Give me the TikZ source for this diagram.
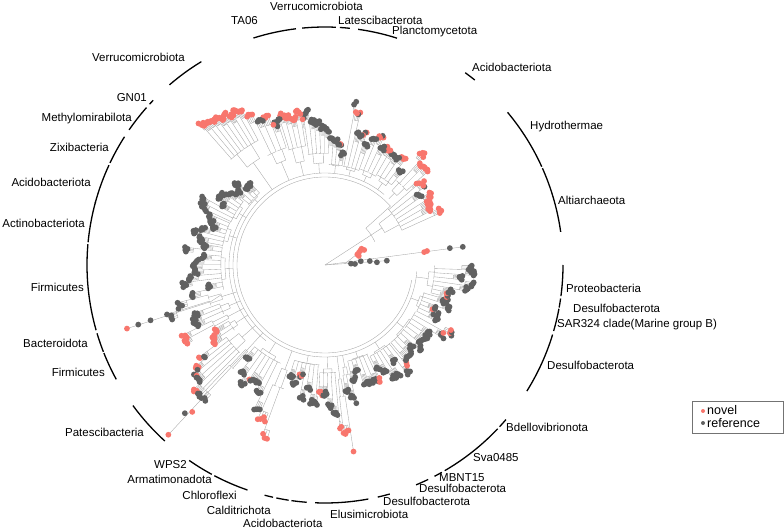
\documentclass[tikz,border=0pt]{standalone}
\usepackage{fontspec}
\setmainfont{Liberation Sans}
\usetikzlibrary{positioning}
\usetikzlibrary{calc}

\definecolor{novelc}{HTML}{F8766D}
\definecolor{refc}{HTML}{616161}
\definecolor{branchc}{HTML}{A6A6A6}

\tikzset{
  branch/.style={draw=branchc, line width=0.35pt},
  novel/.style={fill=novelc},
  ref/.style={fill=refc},
  clade/.style={draw=black, line width=1.3pt},
  lab/.style={font=\fontsize{11.5}{13}\selectfont, inner sep=0pt, text height=8.3pt, text depth=0pt},
  leg/.style={font=\fontsize{12.5}{14}\selectfont, inner sep=0pt, text height=8.5pt, text depth=0pt, anchor=west},
}

% a1, a2, stem start, base radius, first tip r, last tip r, spread, tips, red share
\newcommand{\tipclade}[9]{%
  \pgfmathsetmacro{\cm}{(#1+#2)/2}%
  \pgfmathsetmacro{\cd}{(#2-#1)/#8}%
  \pgfmathtruncatemacro{\ch}{#8/2}%
  \pgfmathsetmacro{\ca}{#1+\cd*\ch/2}%
  \pgfmathsetmacro{\cb}{#1+\cd*(\ch+#8)/2}%
  \pgfmathsetmacro{\cs}{#4+0.35*(min(#5,#6)-#4)}%
  \pgfmathsetmacro{\cfa}{#1+\cd/2}%
  \pgfmathsetmacro{\cla}{#1+\cd*(\ch-0.5)}%
  \pgfmathsetmacro{\cfb}{#1+\cd*(\ch+0.5)}%
  \pgfmathsetmacro{\clb}{#2-\cd/2}%
  \ifnum\tippass=1
    \draw[branch] (\cm:#3) -- (\cm:#4);
    \draw[branch] (\ca:#4) arc[start angle=\ca, end angle=\cb, radius=#4];
    \draw[branch] (\ca:#4) -- (\ca:\cs) (\cb:#4) -- (\cb:\cs);
    \draw[branch] (\cfa:\cs) arc[start angle=\cfa, end angle=\cla, radius=\cs];
    \draw[branch] (\cfb:\cs) arc[start angle=\cfb, end angle=\clb, radius=\cs];
  \fi
  \pgfmathtruncatemacro{\cn}{#8-1}%
  \foreach \i in {0,...,\cn}{
    \pgfmathsetmacro{\ta}{#1+(\i+0.5)*\cd}
    \pgfmathtruncatemacro{\tm}{mod(\i,4)}
    \pgfmathsetmacro{\tz}{rnd}
    \pgfmathsetmacro{\tk}{rnd}
    \ifnum\tm=0
      \xdef\ccol{\tk}
      \pgfmathsetmacro{\rl}{max(#5+(#6-#5)*\i/max(\cn,1)+#7*\tz-7,\cs+2)}
      \xdef\crl{\rl}
      \pgfmathsetmacro{\te}{#1+(min(\i+3,\cn)+0.5)*\cd}
      \ifnum\tippass=1
        \draw[branch] (\ta:\cs) -- (\ta:\crl) arc[start angle=\ta, end angle=\te, radius=\crl];
      \fi
    \fi
    \pgfmathsetmacro{\tr}{\crl+5+5*rnd}
    \pgfmathsetmacro{\tq}{rnd}
    \pgfmathtruncatemacro{\tc}{0.7*\ccol+0.3*\tq<#9}
    \ifnum\tippass=1
      \draw[branch] (\ta:\crl) -- (\ta:\tr);
    \else
      \ifnum\tc=1 \fill[novel] (\ta:\tr) circle[radius=2.9];
      \else \fill[ref] (\ta:\tr) circle[radius=2.9]; \fi
    \fi
  }
}

\newcommand{\alltips}{%
    \tipclade{24}{42}{55}{68}{115}{118}{14}{26}{0.75}
    \tipclade{42}{50}{92}{100}{130}{140}{16}{12}{0.6}
    \tipclade{50}{60}{92}{100}{112}{135}{22}{16}{0.35}
    \tipclade{60}{70}{92}{98}{110}{135}{22}{16}{0.55}
    \tipclade{70}{80}{92}{98}{105}{150}{24}{18}{0.35}
    \tipclade{80}{88}{92}{100}{102}{130}{20}{16}{0.15}
    \tipclade{88}{99}{92}{102}{130}{140}{18}{22}{0.12}
    \tipclade{99}{108}{92}{106}{148}{150}{8}{18}{0.8}
    \tipclade{108}{118}{92}{112}{145}{162}{14}{16}{0.6}
    \tipclade{118}{132}{92}{125}{172}{185}{5}{34}{1.0}
    \tipclade{132}{142}{92}{96}{100}{110}{16}{18}{0.08}
    \tipclade{142}{156}{92}{100}{110}{125}{22}{26}{0.08}
    \tipclade{156}{170}{92}{100}{112}{118}{22}{26}{0.08}
    \tipclade{170}{194}{92}{100}{112}{118}{28}{40}{0.1}
    \tipclade{194}{200}{92}{108}{145}{170}{6}{8}{0.1}
    \tipclade{200}{206}{92}{104}{128}{140}{12}{12}{0.1}
    \tipclade{206}{210}{92}{110}{156}{160}{4}{8}{1.0}
    \tipclade{210}{216}{92}{106}{122}{132}{10}{12}{0.7}
    \tipclade{216}{226}{92}{110}{145}{180}{16}{22}{0.3}
    \tipclade{226}{229}{92}{116}{180}{190}{4}{4}{0.5}
    \tipclade{229}{246}{92}{104}{115}{150}{20}{28}{0.15}
    \tipclade{246}{252}{92}{112}{165}{185}{4}{7}{0.6}
    \tipclade{252}{267}{92}{100}{100}{120}{25}{26}{0.2}
    \tipclade{267}{276}{92}{104}{115}{150}{20}{18}{0.2}
    \tipclade{276}{279}{92}{115}{165}{185}{4}{5}{1.0}
    \tipclade{279}{283}{92}{104}{126}{138}{6}{9}{0.0}
    \tipclade{283}{296}{92}{98}{100}{120}{20}{22}{0.15}
    \tipclade{296}{310}{92}{100}{105}{125}{20}{26}{0.25}
    \tipclade{310}{333}{92}{100}{105}{125}{25}{36}{0.2}
    \tipclade{333}{345}{92}{100}{108}{122}{20}{22}{0.15}
    \tipclade{345}{360}{92}{104}{120}{140}{22}{28}{0.1}
}

\begin{document}
\begin{tikzpicture}[x=1pt, y=1pt]

    \useasboundingbox (-325,-267) rectangle (459,265);

    % Backbone
    \coordinate (root) at (0,0);
    \coordinate (nA) at (33:55);
    \draw[branch] (root) -- (nA);
    \draw[branch] (25:55) arc[start angle=25, end angle=42, radius=55];
    \draw[branch] (42:55) -- (42:88);
    \draw[branch] (42:88) arc[start angle=42, end angle=350, radius=88];
    \draw[branch] (50:92) arc[start angle=50, end angle=356, radius=92];
    \draw[branch] (140:96) arc[start angle=140, end angle=232, radius=96];

    % Lone lineages
    \draw[branch] (root) -- (7.5:139);
    \draw[branch] (root) -- (4:62);
    \draw[branch] (4:20) -- (21:38);

    % Long tips
    \draw[branch] (196:108) -- (197.8:120) -- (197.8:208);
    \draw[branch] (227.5:116) -- (227.5:130) -- (227.3:231);

    % Clades: branches first, then tips
    \def\tippass{1}\pgfmathsetseed{7}\alltips
    \def\tippass{2}\pgfmathsetseed{7}\alltips

    \foreach \a/\r in {7.5/139, 7.7/126, 4/62, 3/52, 5/45, 2/30, 3/26, 6/36,
        197.6/183, 197.7/196, 226.6/204}
      \fill[ref] (\a:\r) circle[radius=2.9];
    \foreach \a/\r in {7.4/100, 7.8/103, 22/38, 20/36, 24/40, 18/34, 21/42, 15/35,
        197.8/208, 227.3/231, 227.9/198}
      \fill[novel] (\a:\r) circle[radius=2.9];

    % Clade arcs
    \foreach \a/\b in {97/107.5, 87.4/95.5, 84/86.4, 72.4/82, 51/53.9, 24.4/39.9,
        8/24, -7.5/0, -10.3/-8.1, -16.1/-10.6, -32/-17, -42.8/-40.5, -59.8/-43.5,
        -62.6/-60.6, -67.5/-64.3, -77.2/-74.2, -92.4/-79.5, -98.1/-94.4,
        -101.8/-98.8, -104.7/-102.6, -117.7/-109, -124.8/-118.4, -143.8/-132.3,
        -158.3/-151.3, -163.3/-158.6, 175/195.9, 164.6/174.5, 155.2/164.9,
        147.4/154.6, 138.6/145.4, 136.2/137.5, 121.3/130.8}
      \draw[clade] (\a:238) arc[start angle=\a, end angle=\b, radius=238];

    % Labels
    \node[lab, anchor=west] (lVerrT) at (-55,258.5) {Verrucomicrobiota};
    \node[lab, anchor=east] (lTA) at (-67,244.5) {TA06};
    \node[lab, anchor=west] (lLate) at (13,245) {Latescibacterota};
    \node[lab, anchor=west] (lPlan) at (67,234.5) {Planctomycetota};
    \node[lab, anchor=west] (lAcidR) at (147,197.5) {Acidobacteriota};
    \node[lab, anchor=west] (lHydr) at (205,140) {Hydrothermae};
    \node[lab, anchor=west] (lAlti) at (233,65) {Altiarchaeota};
    \node[lab, anchor=west] (lProt) at (241,-23) {Proteobacteria};
    \node[lab, anchor=west] (lDesA) at (248,-43) {Desulfobacterota};
    \node[lab, anchor=west] (lSAR) at (232,-58) {SAR324 clade(Marine group B)};
    \node[lab, anchor=west] (lDesB) at (222,-100.5) {Desulfobacterota};
    \node[lab, anchor=west] (lBdel) at (181,-162) {Bdellovibrionota};
    \node[lab, anchor=west] (lSva) at (148,-192.5) {Sva0485};
    \node[lab, anchor=west] (lMBN) at (114,-212.5) {MBNT15};
    \node[lab, anchor=west] (lDesC) at (94,-223.5) {Desulfobacterota};
    \node[lab, anchor=west] (lDesD) at (58,-236.5) {Desulfobacterota};
    \node[lab, anchor=west] (lElus) at (5,-249.5) {Elusimicrobiota};
    \node[lab, anchor=west] (lAcidB) at (-82,-258.5) {Acidobacteriota};
    \node[lab, anchor=east] (lCald) at (-54,-245) {Calditrichota};
    \node[lab, anchor=east] (lChlo) at (-88,-230) {Chloroflexi};
    \node[lab, anchor=east] (lArma) at (-113,-214) {Armatimonadota};
    \node[lab, anchor=east] (lWPS) at (-138,-199) {WPS2};
    \node[lab, anchor=east] (lPate) at (-181,-167) {Patescibacteria};
    \node[lab, anchor=east] (lFirB) at (-220,-107.5) {Firmicutes};
    \node[lab, anchor=east] (lBact) at (-237,-78.5) {Bacteroidota};
    \node[lab, anchor=east] (lFirA) at (-241,-22) {Firmicutes};
    \node[lab, anchor=east] (lActi) at (-240,42) {Actinobacteriota};
    \node[lab, anchor=east] (lAcidL) at (-234,82.5) {Acidobacteriota};
    \node[lab, anchor=east] (lZixi) at (-216,117.5) {Zixibacteria};
    \node[lab, anchor=east] (lMeth) at (-193,148) {Methylomirabilota};
    \node[lab, anchor=east] (lGN) at (-178,168) {GN01};
    \node[lab, anchor=east] (lVerrL) at (-140,207.5) {Verrucomicrobiota};

    % Legend
    \draw[draw=black!55, line width=0.7pt] (367,-136) rectangle (458,-168);
    \fill[novel] (378,-146) circle[radius=2];
    \fill[ref] (378,-158) circle[radius=2];
    \node[leg] (legNovel) at (382,-145.5) {novel};
    \node[leg] (legRef) at (382,-158) {reference};

\end{tikzpicture}
\end{document}
